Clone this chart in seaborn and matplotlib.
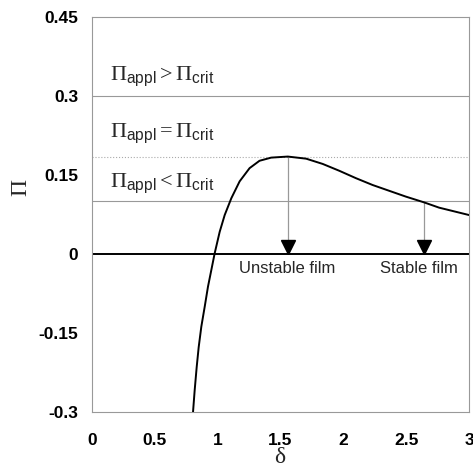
import numpy as np
import pandas as pd
import seaborn as sns
import matplotlib.pyplot as plt

# curve
delta = [0.804, 0.817, 0.833, 0.849, 0.870, 0.897, 0.923, 0.950, 0.976, 1.016, 1.056,
         1.109, 1.175, 1.254, 1.333, 1.426, 1.558, 1.704, 1.836, 1.968, 2.10, 2.233,
         2.365, 2.497, 2.643, 2.762, 3.0]
pi_val = [-0.30, -0.259, -0.215, -0.177, -0.138, -0.100, -0.062, -0.030, 0.001, 0.042, 0.074,
          0.106, 0.138, 0.163, 0.177, 0.183, 0.185, 0.181, 0.171, 0.158, 0.144, 0.131,
          0.120, 0.109, 0.098, 0.088, 0.074]

levels = [0.3, 0.185, 0.1]
level_styles = ["-", ":", "-"]
level_labels = [r"$\Pi_{\mathsf{appl}} > \Pi_{\mathsf{crit}}$",
                r"$\Pi_{\mathsf{appl}} = \Pi_{\mathsf{crit}}$",
                r"$\Pi_{\mathsf{appl}} < \Pi_{\mathsf{crit}}$"]
label_y = [0.338, 0.23, 0.135]

arrow_delta = [1.558, 2.643]
arrow_top = [0.185, 0.098]
film_labels = ["Unstable film", "Stable film"]
film_x = [1.556, 2.60]

sns.set_theme(style="white")
plt.rcParams["font.family"] = ["Liberation Sans", "DejaVu Sans"]
plt.rcParams["mathtext.fontset"] = "custom"
plt.rcParams["mathtext.rm"] = "Liberation Serif"
plt.rcParams["mathtext.it"] = "Liberation Serif"
plt.rcParams["mathtext.sf"] = "Liberation Sans"

fig = plt.figure(figsize=(4.73, 4.71), dpi=100)
ax = fig.add_axes([0.1945, 0.1253, 0.797, 0.8386])

grey = "#999999"
for lv, ls in zip(levels, level_styles):
    ax.axhline(lv, color=grey if ls == "-" else "#aaaaaa", lw=0.8, ls=ls, zorder=1)
ax.axhline(0, color="black", lw=1.4, zorder=2)

df = pd.DataFrame({"delta": delta, "Pi": pi_val})
sns.lineplot(data=df, x="delta", y="Pi", color="black", lw=1.4, ax=ax, zorder=3)

for x, top in zip(arrow_delta, arrow_top):
    ax.vlines(x, 0.02, top, color=grey, lw=0.9, zorder=2)
    ax.plot(x, 0.0125, marker="v", color="black", markersize=9.5, zorder=4)

for txt, y in zip(level_labels, label_y):
    ax.text(0.14, y, txt, fontsize=16, va="center", ha="left")
for txt, x in zip(film_labels, film_x):
    ax.text(x, -0.027, txt, fontsize=12, va="center", ha="center")

ax.set_xlim(0, 3)
ax.set_ylim(-0.3, 0.45)
ax.set_xticks([0, 0.5, 1, 1.5, 2, 2.5, 3])
ax.set_xticklabels(["0", "0.5", "1", "1.5", "2", "2.5", "3"])
ax.set_yticks([-0.3, -0.15, 0, 0.15, 0.3, 0.45])
ax.set_yticklabels(["-0.3", "-0.15", "0", "0.15", "0.3", "0.45"])
ax.tick_params(axis="both", direction="in", length=4, width=0.8, color=grey,
               labelsize=12.5, labelcolor="black")
ax.tick_params(axis="x", pad=15)
ax.tick_params(axis="y", pad=10)
for lab in ax.get_xticklabels() + ax.get_yticklabels():
    lab.set_fontweight("bold")
for sp in ax.spines.values():
    sp.set_color(grey)
    sp.set_linewidth(0.8)

ax.set_xlabel("δ", fontsize=17, family="Liberation Serif")
ax.set_ylabel("Π", fontsize=17, family="Liberation Serif")
ax.xaxis.set_label_coords(0.497, -0.088)
ax.yaxis.set_label_coords(-0.16, 0.568)

fig.savefig("out.png", dpi=100)
